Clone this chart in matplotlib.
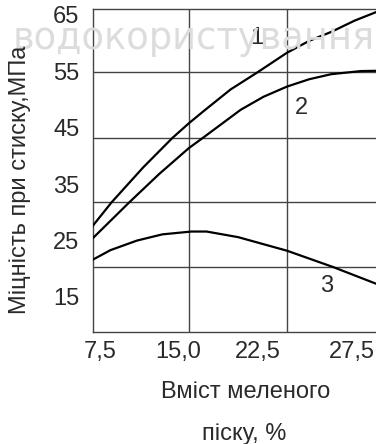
import matplotlib
matplotlib.use("Agg")
import matplotlib.pyplot as plt
import matplotlib.transforms as mtransforms

plt.rcParams['font.family'] = ['Liberation Sans', 'DejaVu Sans']

# Data: content of ground sand (%) vs compressive strength (MPa)
x1 = [7.5, 9.0, 11.5, 13.8, 15.1, 16.4, 18.4, 20.5, 22.85, 24.6, 26.35, 28.2, 30.0]
curve1 = [27.6, 31.8, 38.0, 43.2, 45.8, 48.2, 51.8, 54.8, 58.3, 60.4, 62.0, 64.0, 65.6]
x2 = [7.5, 10.4, 12.75, 15.1, 16.2, 19.2, 21.0, 22.85, 24.6, 26.35, 28.7, 30.0]
curve2 = [25.4, 31.8, 36.8, 41.4, 43.2, 48.2, 50.5, 52.3, 53.6, 54.5, 55.05, 55.1]
x3 = [7.5, 8.9, 11.0, 13.0, 15.3, 16.5, 19.0, 22.85, 26.5, 30.0]
curve3 = [21.6, 23.3, 25.0, 26.1, 26.6, 26.6, 25.6, 23.2, 20.3, 17.25]
curve_names = ["1", "2", "3"]

xticks = [7.5, 15.0, 22.5, 27.5]
xtick_labels = ["7,5", "15,0", "22,5", "27,5"]
yticks = [15, 25, 35, 45, 55, 65]
ytick_labels = ["15", "25", "35", "45", "55", "65"]
xgrid = [15.1, 22.85]
ygrid = [20.27, 31.79, 43.24, 54.84]

W, H = 376, 444
FS = 17
TXT = "#2a2a2a"
fig = plt.figure(figsize=(W / 100, H / 100), dpi=100)
ax = fig.add_axes([92.7 / W, 1 - 332 / H, 1.0 - 92.7 / W + 0.004, (332 - 9.3) / H])
ax.patch.set_alpha(0)

# background watermark, as in the scanned source
fig.text(375 / W, 1 - 49 / H, "водокористування", ha="right", va="baseline",
         fontsize=26.5, color="#dcdcdc", zorder=0, family=["DejaVu Sans"])

ax.set_xlim(7.5, 30)
ax.set_ylim(8.79, 66.0)

for g in xgrid:
    ax.axvline(g, color="#444444", lw=1.0, zorder=1)
for g in ygrid:
    ax.axhline(g, color="#444444", lw=1.0, zorder=1)

for xs, c in ((x1, curve1), (x2, curve2), (x3, curve3)):
    ax.plot(xs, c, color="black", lw=1.6, zorder=3, solid_joinstyle="round")

ax.text(20.5, 60.9, curve_names[0], fontsize=FS, ha="center", va="center", color=TXT)
ax.text(23.97, 48.5, curve_names[1], fontsize=FS, ha="center", va="center", color=TXT)
ax.text(25.96, 17.0, curve_names[2], fontsize=FS, ha="center", va="center", color=TXT)

for s in ax.spines.values():
    s.set_color("#444444")
    s.set_linewidth(1.0)

ax.set_yticks(yticks)
ax.set_yticklabels(ytick_labels)
ax.set_xticks(xticks)
ax.set_xticklabels(xtick_labels)
ax.tick_params(length=0, labelsize=FS, colors=TXT)
ax.tick_params(axis="y", pad=9.5)
ax.tick_params(axis="x", pad=6.8)

# nudge x tick labels to match the reference layout
offsets = [7, -9, -25, 6]
for lab, dx in zip(ax.get_xticklabels(), offsets):
    lab.set_transform(lab.get_transform() + mtransforms.ScaledTranslation(dx / 100, 0, fig.dpi_scale_trans))

fig.text(20 / W, 1 - 180 / H, "Міцність при стиску,МПа", rotation=90, ha="center", va="center",
         fontsize=FS, color=TXT)
fig.text(246 / W, 1 - 398 / H, "Вміст меленого", ha="center", va="baseline", fontsize=FS, color=TXT)
fig.text(244 / W, 1 - 440 / H, "піску, %", ha="center", va="baseline", fontsize=FS, color=TXT)

fig.savefig("out.png", dpi=100)
